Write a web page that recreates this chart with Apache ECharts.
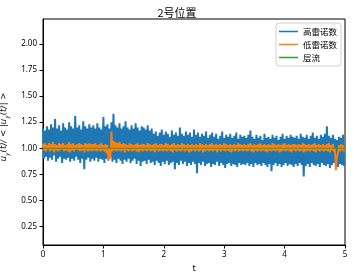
<!DOCTYPE html>
<html>
<head>
<meta charset="utf-8">
<script src="https://cdn.jsdelivr.net/npm/echarts@6/dist/echarts.min.js"></script>
<style>
  html, body { margin: 0; padding: 0; background: #fff; }
  #chart { width: 354px; height: 278px; }
</style>
</head>
<body>
<div id="chart"></div>
<script>
// time span of the record, values sampled on an even grid
var T_END = 5;

// 高雷诺数: upper / lower edge of the fluctuation band
var blueHigh = [
  1.19, 1.17, 1.21, 1.18, 1.23, 1.2, 1.28, 1.19, 1.22, 1.17, 1.24, 1.2, 1.18, 1.25, 1.21, 1.19, 1.31, 1.2, 1.22, 1.18, 1.26, 1.21, 1.19, 1.23, 1.2,
  1.22, 1.19, 1.24, 1.2, 1.18, 1.3, 1.21, 1.23, 1.19, 1.25, 1.33, 1.22, 1.2, 1.24, 1.19, 1.21, 1.26, 1.2, 1.18, 1.22, 1.19, 1.24, 1.2, 1.17, 1.21,
  1.2, 1.18, 1.22, 1.17, 1.19, 1.14, 1.16, 1.12, 1.15, 1.18, 1.13, 1.16, 1.14, 1.11, 1.17, 1.13, 1.15, 1.12, 1.2, 1.14, 1.12, 1.16, 1.13, 1.15, 1.11,
  1.18, 1.13, 1.15, 1.11, 1.14, 1.12, 1.16, 1.1, 1.13, 1.15, 1.11, 1.14, 1.09, 1.12, 1.16, 1.1, 1.13, 1.11, 1.14, 1.1, 1.12, 1.15, 1.09, 1.13, 1.11,
  1.12, 1.1, 1.13, 1.17, 1.11, 1.09, 1.13, 1.1, 1.12, 1.08, 1.14, 1.1, 1.11, 1.09, 1.13, 1.1, 1.12, 1.08, 1.11, 1.14, 1.09, 1.12, 1.1, 1.13, 1.11,
  1.1, 1.12, 1.09, 1.14, 1.11, 1.1, 1.13, 1.09, 1.12, 1.15, 1.1, 1.12, 1.09, 1.13, 1.11, 1.14, 1.21, 1.12, 1.1, 1.13, 1.09, 1.08, 1.11, 1.1, 1.13
];
var blueLow = [
  0.9, 0.92, 0.88, 0.91, 0.89, 0.93, 0.87, 0.9, 0.92, 0.86, 0.9, 0.89, 0.91, 0.87, 0.9, 0.88, 0.92, 0.89, 0.86, 0.9, 0.8, 0.89, 0.91, 0.87, 0.9,
  0.88, 0.91, 0.87, 0.9, 0.89, 0.86, 0.9, 0.88, 0.92, 0.87, 0.89, 0.86, 0.9, 0.88, 0.85, 0.89, 0.87, 0.9, 0.86, 0.88, 0.9, 0.85, 0.88, 0.83, 0.87,
  0.88, 0.85, 0.89, 0.86, 0.87, 0.84, 0.88, 0.86, 0.83, 0.87, 0.85, 0.88, 0.84, 0.86, 0.87, 0.8, 0.86, 0.84, 0.88, 0.85, 0.87, 0.83, 0.86, 0.84, 0.87,
  0.85, 0.76, 0.86, 0.84, 0.87, 0.83, 0.85, 0.86, 0.82, 0.85, 0.84, 0.87, 0.83, 0.86, 0.84, 0.81, 0.85, 0.86, 0.83, 0.85, 0.84, 0.82, 0.86, 0.84, 0.85,
  0.84, 0.86, 0.83, 0.85, 0.82, 0.86, 0.84, 0.85, 0.83, 0.86, 0.84, 0.82, 0.85, 0.78, 0.84, 0.86, 0.83, 0.85, 0.82, 0.84, 0.86, 0.83, 0.85, 0.84, 0.82,
  0.85, 0.83, 0.86, 0.84, 0.73, 0.83, 0.85, 0.82, 0.86, 0.84, 0.83, 0.85, 0.82, 0.86, 0.84, 0.83, 0.85, 0.81, 0.84, 0.86, 0.83, 0.82, 0.85, 0.84, 0.83
];

// 低雷诺数
var orangeHigh = [
  1.04, 1.05, 1.03, 1.05, 1.04, 1.06, 1.04, 1.03, 1.05, 1.04, 1.05, 1.03, 1.04, 1.06, 1.04, 1.05, 1.03, 1.04, 1.05, 1.04, 1.03, 1.05, 1.04, 1.05, 1.04,
  1.04, 1.05, 1.03, 1.04, 1.05, 1.03, 1.04, 1.03, 1.0, 1.16, 1.07, 1.06, 1.05, 1.06, 1.04, 1.05, 1.04, 1.03, 1.05, 1.04, 1.03, 1.04, 1.05, 1.03, 1.04,
  1.04, 1.03, 1.05, 1.04, 1.03, 1.04, 1.05, 1.03, 1.04, 1.04, 1.03, 1.05, 1.04, 1.03, 1.04, 1.05, 1.03, 1.04, 1.03, 1.05, 1.04, 1.03, 1.04, 1.03, 1.04,
  1.03, 1.04, 1.03, 1.05, 1.04, 1.03, 1.04, 1.03, 1.04, 1.05, 1.03, 1.04, 1.03, 1.04, 1.03, 1.05, 1.04, 1.03, 1.04, 1.03, 1.04, 1.03, 1.05, 1.04, 1.03,
  1.04, 1.03, 1.04, 1.05, 1.03, 1.04, 1.03, 1.04, 1.05, 1.03, 1.04, 1.03, 1.04, 1.03, 1.05, 1.04, 1.03, 1.04, 1.03, 1.04, 1.05, 1.03, 1.04, 1.03, 1.04,
  1.04, 1.03, 1.04, 1.03, 1.05, 1.04, 1.03, 1.04, 1.03, 1.04, 1.05, 1.03, 1.04, 1.03, 1.04, 1.03, 1.04, 1.05, 1.03, 1.04, 1.0, 0.92, 1.03, 1.04, 1.03
];
var orangeLow = [
  0.98, 0.97, 0.99, 0.97, 0.98, 0.96, 0.98, 0.97, 0.98, 0.99, 0.97, 0.98, 0.97, 0.96, 0.98, 0.97, 0.99, 0.98, 0.97, 0.98, 0.96, 0.98, 0.97, 0.98, 0.97,
  0.98, 0.97, 0.98, 0.97, 0.98, 0.97, 0.95, 0.88, 0.9, 0.97, 0.98, 0.97, 0.98, 0.97, 0.98, 0.96, 0.98, 0.97, 0.98, 0.97, 0.98, 0.97, 0.96, 0.98, 0.97,
  0.98, 0.97, 0.98, 0.97, 0.98, 0.96, 0.98, 0.97, 0.98, 0.97, 0.98, 0.97, 0.98, 0.97, 0.96, 0.98, 0.97, 0.98, 0.97, 0.98, 0.97, 0.98, 0.96, 0.97, 0.98,
  0.97, 0.98, 0.97, 0.98, 0.96, 0.97, 0.98, 0.97, 0.98, 0.97, 0.98, 0.96, 0.98, 0.97, 0.98, 0.97, 0.98, 0.97, 0.96, 0.98, 0.97, 0.98, 0.97, 0.98, 0.97,
  0.98, 0.97, 0.98, 0.97, 0.96, 0.98, 0.97, 0.98, 0.97, 0.98, 0.97, 0.96, 0.98, 0.97, 0.98, 0.97, 0.98, 0.96, 0.97, 0.98, 0.97, 0.98, 0.97, 0.96, 0.98,
  0.97, 0.98, 0.97, 0.98, 0.96, 0.97, 0.98, 0.97, 0.98, 0.97, 0.96, 0.98, 0.97, 0.98, 0.97, 0.98, 0.97, 0.96, 0.98, 0.97, 0.79, 0.95, 0.97, 0.98, 0.97
];

// 层流
var laminarT = [0, 5];
var laminarU = [1.0, 1.0];

var xTicks = [0, 1, 2, 3, 4, 5];
var yTicks = [0.25, 0.5, 0.75, 1.0, 1.25, 1.5, 1.75, 2.0];

// zip high/low edges into one zig-zag trace on the time grid
function band(high, low) {
  var dt = T_END / high.length;
  var pts = [];
  for (var i = 0; i < high.length; i++) {
    pts.push([i * dt, high[i]]);
    pts.push([(i + 0.5) * dt, low[i]]);
  }
  return pts;
}

var font = "'Noto Sans', 'DejaVu Sans', sans-serif";
var math = "'DejaVu Sans', sans-serif";
var cjk = "'Noto Sans CJK SC', sans-serif";
var mathStyle = { fontFamily: math, fontStyle: 'italic', fontSize: 8.5, lineHeight: 13, color: '#000' };

var chart = echarts.init(document.getElementById('chart'));
var option = {
  animation: false,
  backgroundColor: '#fff',
  title: {
    text: '2号位置',
    left: 'center',
    top: 2,
    textStyle: { fontFamily: cjk, fontSize: 11, fontWeight: 'normal', color: '#000' }
  },
  legend: {
    orient: 'vertical',
    right: 13,
    top: 23,
    padding: [2, 4, 2, 3],
    itemGap: 0,
    itemWidth: 19,
    itemHeight: 1.5,
    icon: 'rect',
    borderColor: '#d0d0d0',
    borderWidth: 1,
    borderRadius: 3,
    backgroundColor: 'rgba(255,255,255,0.8)',
    textStyle: { fontFamily: cjk, fontSize: 8.5, lineHeight: 13, color: '#000' },
    data: ['高雷诺数', '低雷诺数', '层流']
  },
  grid: {
    left: 43, right: 9, top: 19, bottom: 33,
    outerBoundsMode: 'none',
    show: true, borderColor: '#000', borderWidth: 1
  },
  xAxis: {
    type: 'value',
    min: 0, max: 5, interval: 1,
    name: 't',
    nameLocation: 'middle',
    nameGap: 16,
    nameTextStyle: { fontFamily: font, fontSize: 9, color: '#000' },
    axisLine: { lineStyle: { color: '#000', width: 1 } },
    axisTick: { length: 3.5, lineStyle: { color: '#000' } },
    axisLabel: { fontFamily: font, fontSize: 8, color: '#000', margin: 6 },
    splitLine: { show: false }
  },
  yAxis: {
    type: 'value',
    min: 0.072, max: 2.24,
    name: '{m|u}{s|y}{m|(t)/ < |u}{s|y}{m|(t)| >}',
    nameLocation: 'middle',
    nameGap: 18,
    nameRotate: 90,
    nameTextStyle: {
      padding: [0, 0, 0, 10],
      rich: {
        m: mathStyle,
        s: { fontFamily: math, fontStyle: 'italic', fontSize: 6, lineHeight: 8, verticalAlign: 'bottom', color: '#000' }
      }
    },
    axisLine: { show: true, lineStyle: { color: '#000', width: 1 } },
    axisTick: { show: true, length: 3.5, customValues: yTicks, lineStyle: { color: '#000' } },
    axisLabel: {
      fontFamily: font, fontSize: 8, color: '#000', margin: 6,
      customValues: yTicks,
      formatter: function (v) { return v.toFixed(2); }
    },
    splitLine: { show: false }
  },
  series: [
    {
      name: '高雷诺数',
      type: 'line',
      data: band(blueHigh, blueLow),
      showSymbol: false,
      symbol: 'none',
      color: '#1f77b4',
      lineStyle: { width: 2, color: '#1f77b4' },
      z: 2
    },
    {
      name: '低雷诺数',
      type: 'line',
      data: band(orangeHigh, orangeLow),
      showSymbol: false,
      symbol: 'none',
      color: '#ff7f0e',
      lineStyle: { width: 1.8, color: '#ff7f0e' },
      z: 3
    },
    {
      name: '层流',
      type: 'line',
      data: laminarT.map(function (t, i) { return [t, laminarU[i]]; }),
      showSymbol: false,
      symbol: 'none',
      color: '#2ca02c',
      lineStyle: { width: 1.2, color: '#2ca02c' },
      z: 4
    }
  ]
};
chart.setOption(option);
</script>
</body>
</html>
